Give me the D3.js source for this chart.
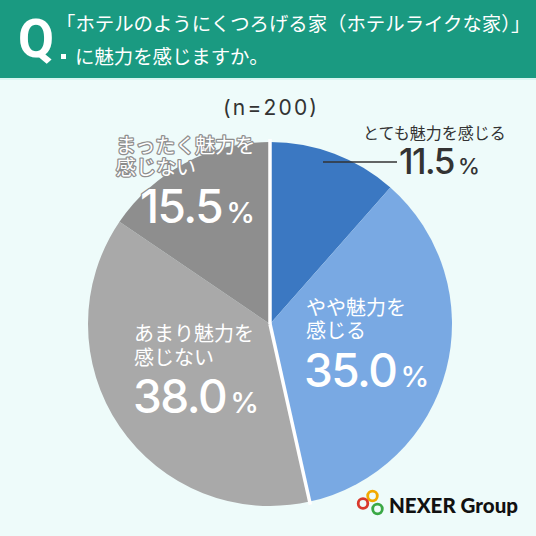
<!DOCTYPE html>
<html><head><meta charset="utf-8">
<script src="https://cdn.jsdelivr.net/npm/d3@7"></script>
<style>
html,body{margin:0;padding:0;background:#eefbfa;}
svg{display:block;}
</style></head><body>
<svg id="c" width="536" height="536"></svg>
<script>
const categories = ["とても魅力を感じる", "やや魅力を感じる", "あまり魅力を感じない", "まったく魅力を感じない"];
const values = [11.5, 35.0, 38.0, 15.5];
const colors = ["#3b78c2", "#79a9e3", "#a9a9a9", "#8e8e8e"];
const labelLines = [["とても魅力を感じる"], ["やや魅力を", "感じる"], ["あまり魅力を", "感じない"], ["まったく魅力を", "感じない"]];
const titleLines = ["「ホテルのようにくつろげる家（ホテルライクな家）」", "に魅力を感じますか。"];
const sampleLabel = "(n=200)";

const JP = "'Noto Sans CJK JP', 'Noto Sans', sans-serif";
const NUM = "Inter, 'Noto Sans', sans-serif";
const svg = d3.select("#c");

// background
svg.append("rect").attr("width", 536).attr("height", 536).attr("fill", "#eefbfa");
// header
svg.append("rect").attr("width", 536).attr("height", 78).attr("fill", "#1a9a81");
svg.append("rect").attr("y", 78).attr("width", 536).attr("height", 2).attr("fill", "#d8f5f1");
svg.append("text").attr("x", 18).attr("y", 57).attr("fill", "#fff")
  .attr("font-family", "Roboto, 'Noto Sans', sans-serif").attr("font-weight", 700).attr("font-size", 54)
  .attr("textLength", 36).attr("lengthAdjust", "spacingAndGlyphs").text("Q");
svg.append("rect").attr("x", 61).attr("y", 54).attr("width", 5).attr("height", 5).attr("fill", "#fff");
svg.append("text").attr("x", 56).attr("y", 31).attr("fill", "#fff")
  .attr("font-family", JP).attr("font-weight", 400).attr("font-size", 19.4).text(titleLines[0]);
svg.append("text").attr("x", 75).attr("y", 64).attr("fill", "#fff")
  .attr("font-family", JP).attr("font-weight", 400).attr("font-size", 19.4).text(titleLines[1]);

// sample size
svg.append("text").attr("x", 223).attr("y", 115).attr("fill", "#333")
  .attr("font-family", NUM).attr("font-size", 21).attr("textLength", 94).attr("lengthAdjust", "spacing")
  .text(sampleLabel);

// pie
const cx = 270, cy = 324, R = 182;
const pie = d3.pie().sort(null).value(d => d);
const arcs = pie(values);
const arc = d3.arc().innerRadius(0).outerRadius(R);
const g = svg.append("g").attr("transform", `translate(${cx},${cy})`);
g.selectAll("path").data(arcs).enter().append("path")
  .attr("d", arc).attr("fill", (d, i) => colors[i]);
// white separators between blue and gray groups
[arcs[0].startAngle, arcs[1].endAngle].forEach(a => {
  g.append("line").attr("x1", 0).attr("y1", 0)
    .attr("x2", Math.sin(a) * (R + 3)).attr("y2", -Math.cos(a) * (R + 3))
    .attr("stroke", "#ffffff").attr("stroke-width", 3.5);
});

// labels
function numLabel(x, y, val, size, pctSize, fill, stroke) {
  const t = svg.append("text").attr("x", x).attr("y", y).attr("fill", fill)
    .attr("font-family", NUM).attr("font-weight", 500);
  if (stroke) t.attr("stroke", stroke).attr("stroke-width", 2.5).attr("paint-order", "stroke").attr("stroke-linejoin", "round");
  t.append("tspan").attr("font-size", size).attr("letter-spacing", -1.5).text(val.toFixed(1));
  t.append("tspan").attr("font-size", pctSize).attr("dx", 4).text("%");
}
function jpLabel(x, y, lines, gap, size, fill, stroke) {
  lines.forEach((l, k) => {
    const t = svg.append("text").attr("x", x).attr("y", y + k * gap).attr("fill", fill)
      .attr("font-family", JP).attr("font-weight", 400).attr("font-size", size).text(l);
    if (stroke) t.attr("stroke", stroke).attr("stroke-width", 2.5).attr("paint-order", "stroke").attr("stroke-linejoin", "round");
  });
}

// 11.5
jpLabel(363, 139, labelLines[0], 0, 16, "#333");
svg.append("line").attr("x1", 323).attr("x2", 397).attr("y1", 162).attr("y2", 162)
  .attr("stroke", "#333").attr("stroke-width", 1.6);
numLabel(399, 174, values[0], 35, 22, "#333");
// 35.0
jpLabel(306, 315, labelLines[1], 23, 20, "#fff");
numLabel(304, 387, values[1], 46, 29, "#fff");
// 38.0
jpLabel(134, 341, labelLines[2], 24, 20, "#fff");
numLabel(133, 413, values[2], 46, 29, "#fff");
// 15.5
jpLabel(116, 153, labelLines[3], 22, 20, "#fff", "#8e8e8e");
numLabel(140, 223, values[3], 46, 29, "#fff", "#8e8e8e");

// logo
const logo = svg.append("g");
[[372.5, 496, "#f2a900"], [363, 503.5, "#d9392c"], [377.5, 509, "#3aa845"]].forEach(c => {
  logo.append("circle").attr("cx", c[0]).attr("cy", c[1]).attr("r", 4.8)
    .attr("fill", "none").attr("stroke", c[2]).attr("stroke-width", 2.8);
});
svg.append("text").attr("x", 389).attr("y", 513).attr("fill", "#111")
  .attr("font-family", "Lato, 'Noto Sans', sans-serif").attr("font-weight", 900).attr("font-size", 21)
  .attr("textLength", 129).attr("lengthAdjust", "spacingAndGlyphs").text("NEXER Group");
</script>
</body></html>
